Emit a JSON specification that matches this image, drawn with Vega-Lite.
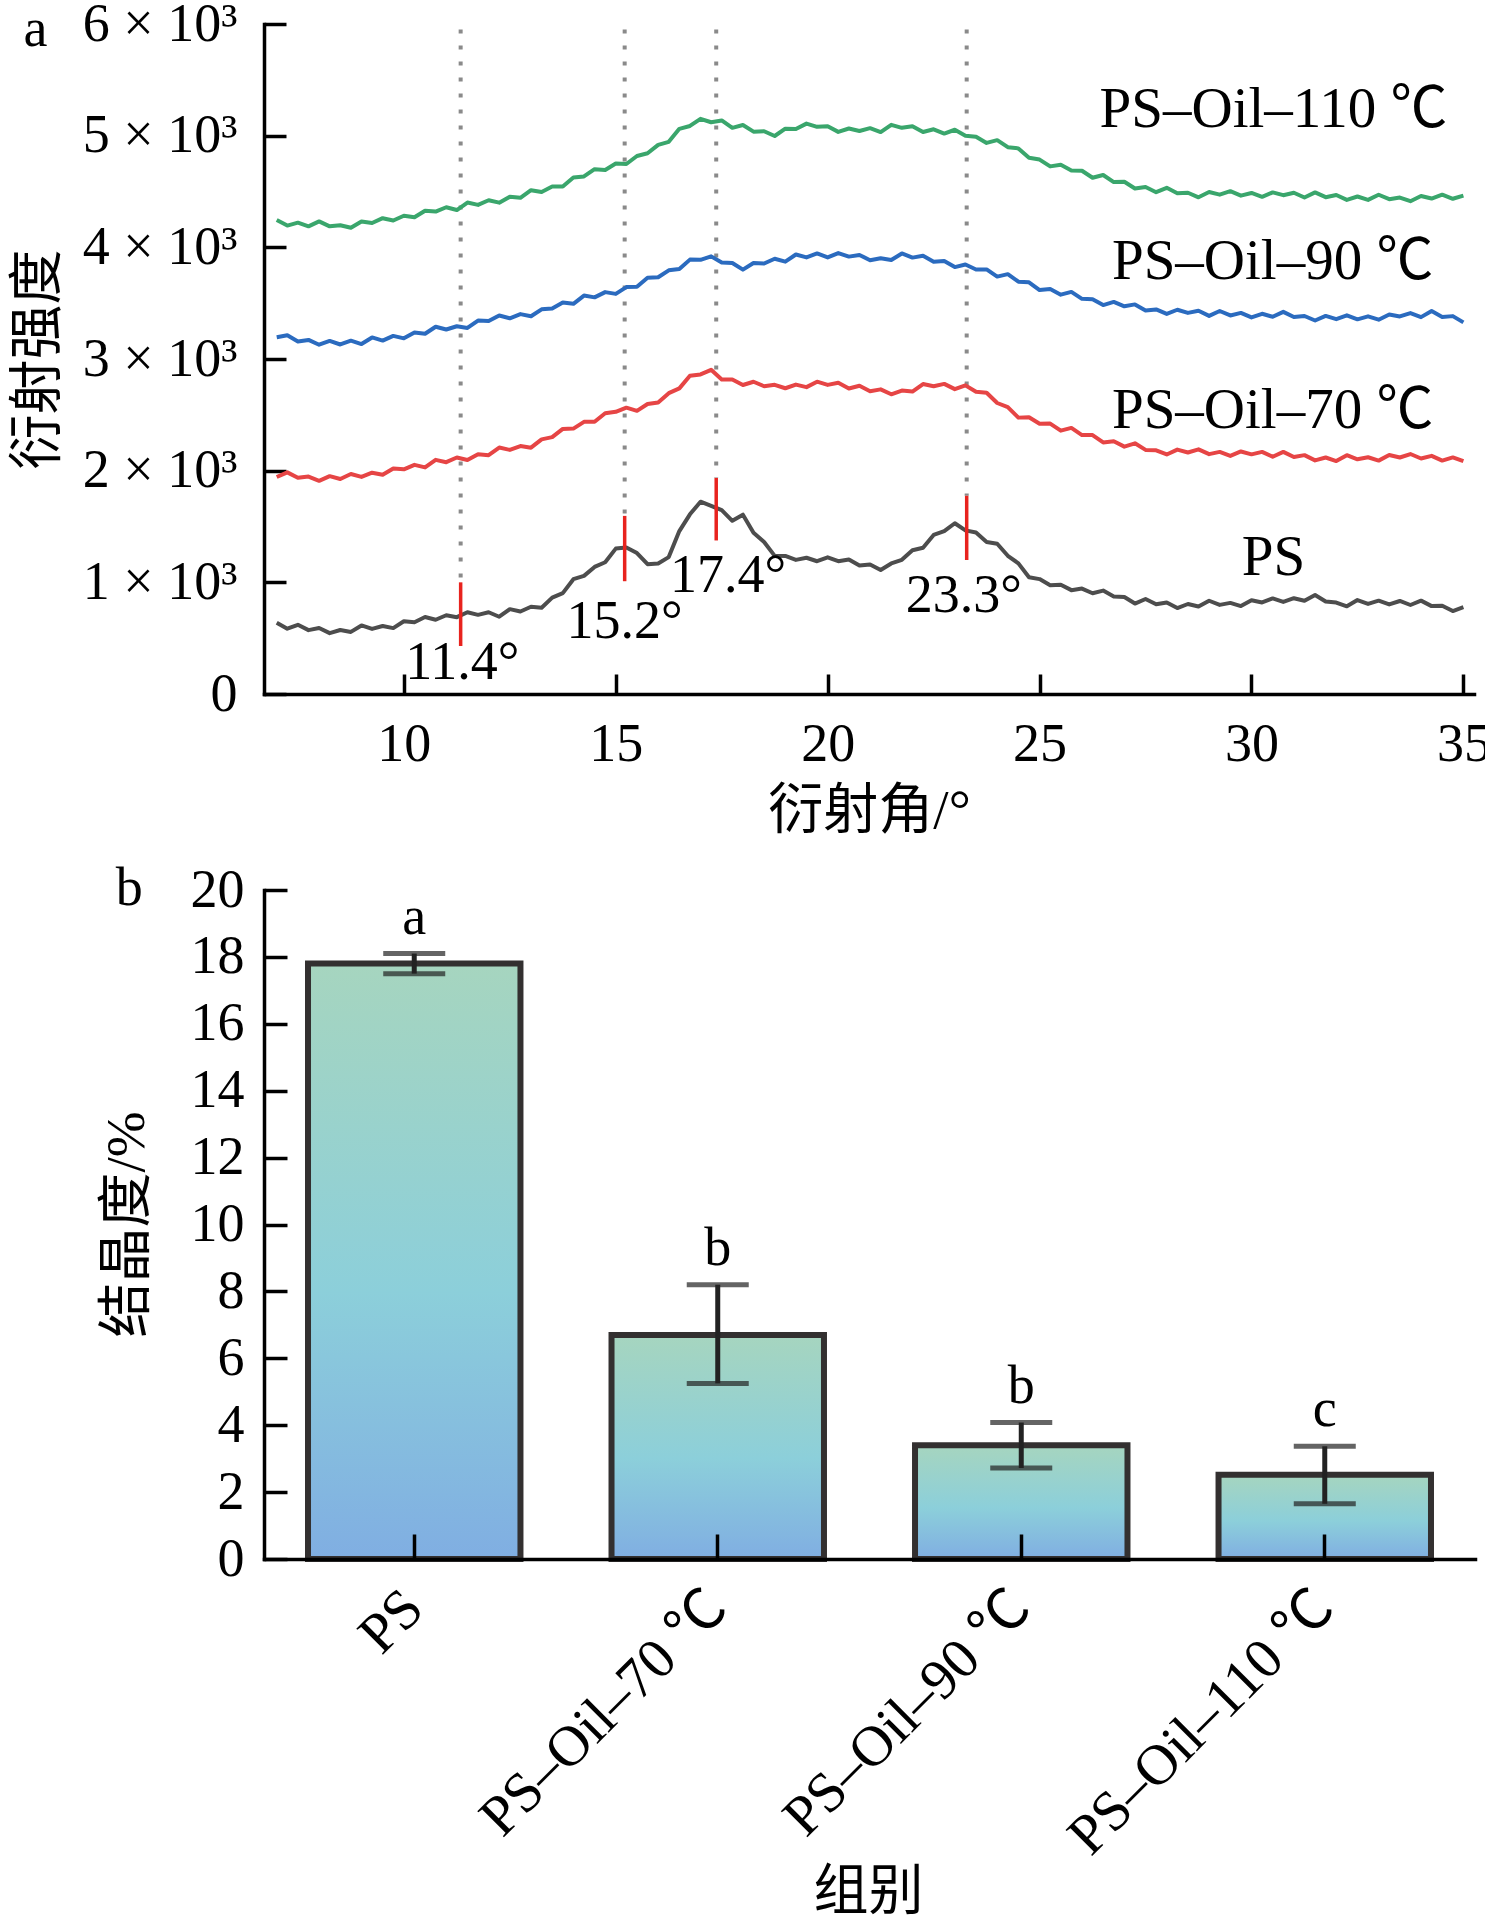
{
"$schema": "https://vega.github.io/schema/vega-lite/v6.json",
"background": "white",
"padding": {"left": 10, "top": -3, "right": 0, "bottom": 0},
"spacing": 196,
"bounds": "flush",
"config": {
  "view": {"stroke": null},
  "font": "Liberation Serif",
  "axis": {"grid": false, "labelFont": "Liberation Serif", "titleFont": "Liberation Serif, Noto Sans CJK SC", "labelColor": "black", "titleColor": "black", "domainColor": "black", "tickColor": "black", "domainWidth": 3.5, "tickWidth": 3.5, "titleFontWeight": "normal", "labelFontSize": 54, "titleFontSize": 55, "domainCap": "square"}
},
"datasets": {
  "xrd": [
{"sample":"PS","angle":7,"intensity":639},{"sample":"PS","angle":7.25,"intensity":585},{"sample":"PS","angle":7.5,"intensity":620},{"sample":"PS","angle":7.75,"intensity":572},{"sample":"PS","angle":8,"intensity":591},{"sample":"PS","angle":8.25,"intensity":545},{"sample":"PS","angle":8.5,"intensity":573},{"sample":"PS","angle":8.75,"intensity":556},{"sample":"PS","angle":9,"intensity":614},{"sample":"PS","angle":9.25,"intensity":583},{"sample":"PS","angle":9.5,"intensity":609},{"sample":"PS","angle":9.75,"intensity":590},{"sample":"PS","angle":10,"intensity":651},{"sample":"PS","angle":10.25,"intensity":643},{"sample":"PS","angle":10.5,"intensity":689},{"sample":"PS","angle":10.75,"intensity":665},{"sample":"PS","angle":11,"intensity":705},{"sample":"PS","angle":11.25,"intensity":688},{"sample":"PS","angle":11.5,"intensity":732},{"sample":"PS","angle":11.75,"intensity":709},{"sample":"PS","angle":12,"intensity":732},{"sample":"PS","angle":12.25,"intensity":692},{"sample":"PS","angle":12.5,"intensity":760},{"sample":"PS","angle":12.75,"intensity":739},{"sample":"PS","angle":13,"intensity":781},{"sample":"PS","angle":13.25,"intensity":773},{"sample":"PS","angle":13.5,"intensity":863},{"sample":"PS","angle":13.75,"intensity":903},{"sample":"PS","angle":14,"intensity":1028},{"sample":"PS","angle":14.25,"intensity":1058},{"sample":"PS","angle":14.5,"intensity":1138},{"sample":"PS","angle":14.75,"intensity":1180},{"sample":"PS","angle":15,"intensity":1302},{"sample":"PS","angle":15.25,"intensity":1312},{"sample":"PS","angle":15.5,"intensity":1262},{"sample":"PS","angle":15.75,"intensity":1162},{"sample":"PS","angle":16,"intensity":1169},{"sample":"PS","angle":16.25,"intensity":1226},{"sample":"PS","angle":16.5,"intensity":1459},{"sample":"PS","angle":16.75,"intensity":1609},{"sample":"PS","angle":17,"intensity":1722},{"sample":"PS","angle":17.25,"intensity":1684},{"sample":"PS","angle":17.5,"intensity":1646},{"sample":"PS","angle":17.75,"intensity":1551},{"sample":"PS","angle":18,"intensity":1606},{"sample":"PS","angle":18.25,"intensity":1445},{"sample":"PS","angle":18.5,"intensity":1361},{"sample":"PS","angle":18.75,"intensity":1237},{"sample":"PS","angle":19,"intensity":1236},{"sample":"PS","angle":19.25,"intensity":1201},{"sample":"PS","angle":19.5,"intensity":1220},{"sample":"PS","angle":19.75,"intensity":1189},{"sample":"PS","angle":20,"intensity":1224},{"sample":"PS","angle":20.25,"intensity":1189},{"sample":"PS","angle":20.5,"intensity":1205},{"sample":"PS","angle":20.75,"intensity":1150},{"sample":"PS","angle":21,"intensity":1160},{"sample":"PS","angle":21.25,"intensity":1111},{"sample":"PS","angle":21.5,"intensity":1169},{"sample":"PS","angle":21.75,"intensity":1202},{"sample":"PS","angle":22,"intensity":1287},{"sample":"PS","angle":22.25,"intensity":1310},{"sample":"PS","angle":22.5,"intensity":1424},{"sample":"PS","angle":22.75,"intensity":1458},{"sample":"PS","angle":23,"intensity":1529},{"sample":"PS","angle":23.25,"intensity":1465},{"sample":"PS","angle":23.5,"intensity":1446},{"sample":"PS","angle":23.75,"intensity":1362},{"sample":"PS","angle":24,"intensity":1346},{"sample":"PS","angle":24.25,"intensity":1238},{"sample":"PS","angle":24.5,"intensity":1170},{"sample":"PS","angle":24.75,"intensity":1046},{"sample":"PS","angle":25,"intensity":1029},{"sample":"PS","angle":25.25,"intensity":974},{"sample":"PS","angle":25.5,"intensity":979},{"sample":"PS","angle":25.75,"intensity":930},{"sample":"PS","angle":26,"intensity":944},{"sample":"PS","angle":26.25,"intensity":902},{"sample":"PS","angle":26.5,"intensity":926},{"sample":"PS","angle":26.75,"intensity":874},{"sample":"PS","angle":27,"intensity":869},{"sample":"PS","angle":27.25,"intensity":810},{"sample":"PS","angle":27.5,"intensity":851},{"sample":"PS","angle":27.75,"intensity":803},{"sample":"PS","angle":28,"intensity":819},{"sample":"PS","angle":28.25,"intensity":770},{"sample":"PS","angle":28.5,"intensity":806},{"sample":"PS","angle":28.75,"intensity":783},{"sample":"PS","angle":29,"intensity":835},{"sample":"PS","angle":29.25,"intensity":798},{"sample":"PS","angle":29.5,"intensity":816},{"sample":"PS","angle":29.75,"intensity":787},{"sample":"PS","angle":30,"intensity":839},{"sample":"PS","angle":30.25,"intensity":820},{"sample":"PS","angle":30.5,"intensity":856},{"sample":"PS","angle":30.75,"intensity":825},{"sample":"PS","angle":31,"intensity":858},{"sample":"PS","angle":31.25,"intensity":835},{"sample":"PS","angle":31.5,"intensity":887},{"sample":"PS","angle":31.75,"intensity":829},{"sample":"PS","angle":32,"intensity":819},{"sample":"PS","angle":32.25,"intensity":785},{"sample":"PS","angle":32.5,"intensity":841},{"sample":"PS","angle":32.75,"intensity":807},{"sample":"PS","angle":33,"intensity":836},{"sample":"PS","angle":33.25,"intensity":802},{"sample":"PS","angle":33.5,"intensity":833},{"sample":"PS","angle":33.75,"intensity":797},{"sample":"PS","angle":34,"intensity":836},{"sample":"PS","angle":34.25,"intensity":787},{"sample":"PS","angle":34.5,"intensity":791},{"sample":"PS","angle":34.75,"intensity":743},{"sample":"PS","angle":35,"intensity":777},
{"sample":"70","angle":7,"intensity":1943},{"sample":"70","angle":7.25,"intensity":1985},{"sample":"70","angle":7.5,"intensity":1937},{"sample":"70","angle":7.75,"intensity":1947},{"sample":"70","angle":8,"intensity":1909},{"sample":"70","angle":8.25,"intensity":1951},{"sample":"70","angle":8.5,"intensity":1925},{"sample":"70","angle":8.75,"intensity":1970},{"sample":"70","angle":9,"intensity":1944},{"sample":"70","angle":9.25,"intensity":1982},{"sample":"70","angle":9.5,"intensity":1963},{"sample":"70","angle":9.75,"intensity":2020},{"sample":"70","angle":10,"intensity":2012},{"sample":"70","angle":10.25,"intensity":2052},{"sample":"70","angle":10.5,"intensity":2029},{"sample":"70","angle":10.75,"intensity":2097},{"sample":"70","angle":11,"intensity":2076},{"sample":"70","angle":11.25,"intensity":2118},{"sample":"70","angle":11.5,"intensity":2096},{"sample":"70","angle":11.75,"intensity":2148},{"sample":"70","angle":12,"intensity":2139},{"sample":"70","angle":12.25,"intensity":2207},{"sample":"70","angle":12.5,"intensity":2186},{"sample":"70","angle":12.75,"intensity":2220},{"sample":"70","angle":13,"intensity":2206},{"sample":"70","angle":13.25,"intensity":2280},{"sample":"70","angle":13.5,"intensity":2300},{"sample":"70","angle":13.75,"intensity":2374},{"sample":"70","angle":14,"intensity":2377},{"sample":"70","angle":14.25,"intensity":2437},{"sample":"70","angle":14.5,"intensity":2438},{"sample":"70","angle":14.75,"intensity":2514},{"sample":"70","angle":15,"intensity":2527},{"sample":"70","angle":15.25,"intensity":2564},{"sample":"70","angle":15.5,"intensity":2536},{"sample":"70","angle":15.75,"intensity":2597},{"sample":"70","angle":16,"intensity":2611},{"sample":"70","angle":16.25,"intensity":2694},{"sample":"70","angle":16.5,"intensity":2737},{"sample":"70","angle":16.75,"intensity":2850},{"sample":"70","angle":17,"intensity":2862},{"sample":"70","angle":17.25,"intensity":2903},{"sample":"70","angle":17.5,"intensity":2817},{"sample":"70","angle":17.75,"intensity":2816},{"sample":"70","angle":18,"intensity":2767},{"sample":"70","angle":18.25,"intensity":2796},{"sample":"70","angle":18.5,"intensity":2756},{"sample":"70","angle":18.75,"intensity":2769},{"sample":"70","angle":19,"intensity":2738},{"sample":"70","angle":19.25,"intensity":2771},{"sample":"70","angle":19.5,"intensity":2748},{"sample":"70","angle":19.75,"intensity":2797},{"sample":"70","angle":20,"intensity":2768},{"sample":"70","angle":20.25,"intensity":2787},{"sample":"70","angle":20.5,"intensity":2736},{"sample":"70","angle":20.75,"intensity":2760},{"sample":"70","angle":21,"intensity":2711},{"sample":"70","angle":21.25,"intensity":2728},{"sample":"70","angle":21.5,"intensity":2684},{"sample":"70","angle":21.75,"intensity":2717},{"sample":"70","angle":22,"intensity":2708},{"sample":"70","angle":22.25,"intensity":2776},{"sample":"70","angle":22.5,"intensity":2756},{"sample":"70","angle":22.75,"intensity":2777},{"sample":"70","angle":23,"intensity":2730},{"sample":"70","angle":23.25,"intensity":2764},{"sample":"70","angle":23.5,"intensity":2706},{"sample":"70","angle":23.75,"intensity":2698},{"sample":"70","angle":24,"intensity":2606},{"sample":"70","angle":24.25,"intensity":2569},{"sample":"70","angle":24.5,"intensity":2475},{"sample":"70","angle":24.75,"intensity":2479},{"sample":"70","angle":25,"intensity":2420},{"sample":"70","angle":25.25,"intensity":2422},{"sample":"70","angle":25.5,"intensity":2358},{"sample":"70","angle":25.75,"intensity":2383},{"sample":"70","angle":26,"intensity":2319},{"sample":"70","angle":26.25,"intensity":2319},{"sample":"70","angle":26.5,"intensity":2253},{"sample":"70","angle":26.75,"intensity":2263},{"sample":"70","angle":27,"intensity":2215},{"sample":"70","angle":27.25,"intensity":2245},{"sample":"70","angle":27.5,"intensity":2186},{"sample":"70","angle":27.75,"intensity":2182},{"sample":"70","angle":28,"intensity":2145},{"sample":"70","angle":28.25,"intensity":2189},{"sample":"70","angle":28.5,"intensity":2163},{"sample":"70","angle":28.75,"intensity":2191},{"sample":"70","angle":29,"intensity":2148},{"sample":"70","angle":29.25,"intensity":2168},{"sample":"70","angle":29.5,"intensity":2132},{"sample":"70","angle":29.75,"intensity":2172},{"sample":"70","angle":30,"intensity":2146},{"sample":"70","angle":30.25,"intensity":2168},{"sample":"70","angle":30.5,"intensity":2125},{"sample":"70","angle":30.75,"intensity":2168},{"sample":"70","angle":31,"intensity":2122},{"sample":"70","angle":31.25,"intensity":2139},{"sample":"70","angle":31.5,"intensity":2092},{"sample":"70","angle":31.75,"intensity":2118},{"sample":"70","angle":32,"intensity":2086},{"sample":"70","angle":32.25,"intensity":2139},{"sample":"70","angle":32.5,"intensity":2102},{"sample":"70","angle":32.75,"intensity":2120},{"sample":"70","angle":33,"intensity":2090},{"sample":"70","angle":33.25,"intensity":2140},{"sample":"70","angle":33.5,"intensity":2118},{"sample":"70","angle":33.75,"intensity":2149},{"sample":"70","angle":34,"intensity":2109},{"sample":"70","angle":34.25,"intensity":2133},{"sample":"70","angle":34.5,"intensity":2090},{"sample":"70","angle":34.75,"intensity":2119},{"sample":"70","angle":35,"intensity":2085},
{"sample":"90","angle":7,"intensity":3195},{"sample":"90","angle":7.25,"intensity":3212},{"sample":"90","angle":7.5,"intensity":3157},{"sample":"90","angle":7.75,"intensity":3171},{"sample":"90","angle":8,"intensity":3128},{"sample":"90","angle":8.25,"intensity":3162},{"sample":"90","angle":8.5,"intensity":3130},{"sample":"90","angle":8.75,"intensity":3164},{"sample":"90","angle":9,"intensity":3134},{"sample":"90","angle":9.25,"intensity":3193},{"sample":"90","angle":9.5,"intensity":3165},{"sample":"90","angle":9.75,"intensity":3207},{"sample":"90","angle":10,"intensity":3185},{"sample":"90","angle":10.25,"intensity":3237},{"sample":"90","angle":10.5,"intensity":3226},{"sample":"90","angle":10.75,"intensity":3289},{"sample":"90","angle":11,"intensity":3264},{"sample":"90","angle":11.25,"intensity":3293},{"sample":"90","angle":11.5,"intensity":3278},{"sample":"90","angle":11.75,"intensity":3344},{"sample":"90","angle":12,"intensity":3340},{"sample":"90","angle":12.25,"intensity":3390},{"sample":"90","angle":12.5,"intensity":3364},{"sample":"90","angle":12.75,"intensity":3402},{"sample":"90","angle":13,"intensity":3383},{"sample":"90","angle":13.25,"intensity":3445},{"sample":"90","angle":13.5,"intensity":3452},{"sample":"90","angle":13.75,"intensity":3505},{"sample":"90","angle":14,"intensity":3494},{"sample":"90","angle":14.25,"intensity":3568},{"sample":"90","angle":14.5,"intensity":3552},{"sample":"90","angle":14.75,"intensity":3599},{"sample":"90","angle":15,"intensity":3583},{"sample":"90","angle":15.25,"intensity":3644},{"sample":"90","angle":15.5,"intensity":3647},{"sample":"90","angle":15.75,"intensity":3727},{"sample":"90","angle":16,"intensity":3732},{"sample":"90","angle":16.25,"intensity":3794},{"sample":"90","angle":16.5,"intensity":3805},{"sample":"90","angle":16.75,"intensity":3890},{"sample":"90","angle":17,"intensity":3888},{"sample":"90","angle":17.25,"intensity":3919},{"sample":"90","angle":17.5,"intensity":3864},{"sample":"90","angle":17.75,"intensity":3860},{"sample":"90","angle":18,"intensity":3800},{"sample":"90","angle":18.25,"intensity":3860},{"sample":"90","angle":18.5,"intensity":3855},{"sample":"90","angle":18.75,"intensity":3898},{"sample":"90","angle":19,"intensity":3872},{"sample":"90","angle":19.25,"intensity":3936},{"sample":"90","angle":19.5,"intensity":3910},{"sample":"90","angle":19.75,"intensity":3945},{"sample":"90","angle":20,"intensity":3910},{"sample":"90","angle":20.25,"intensity":3949},{"sample":"90","angle":20.5,"intensity":3917},{"sample":"90","angle":20.75,"intensity":3932},{"sample":"90","angle":21,"intensity":3885},{"sample":"90","angle":21.25,"intensity":3902},{"sample":"90","angle":21.5,"intensity":3886},{"sample":"90","angle":21.75,"intensity":3945},{"sample":"90","angle":22,"intensity":3908},{"sample":"90","angle":22.25,"intensity":3924},{"sample":"90","angle":22.5,"intensity":3870},{"sample":"90","angle":22.75,"intensity":3877},{"sample":"90","angle":23,"intensity":3823},{"sample":"90","angle":23.25,"intensity":3846},{"sample":"90","angle":23.5,"intensity":3801},{"sample":"90","angle":23.75,"intensity":3802},{"sample":"90","angle":24,"intensity":3738},{"sample":"90","angle":24.25,"intensity":3760},{"sample":"90","angle":24.5,"intensity":3692},{"sample":"90","angle":24.75,"intensity":3687},{"sample":"90","angle":25,"intensity":3617},{"sample":"90","angle":25.25,"intensity":3626},{"sample":"90","angle":25.5,"intensity":3576},{"sample":"90","angle":25.75,"intensity":3601},{"sample":"90","angle":26,"intensity":3539},{"sample":"90","angle":26.25,"intensity":3535},{"sample":"90","angle":26.5,"intensity":3483},{"sample":"90","angle":26.75,"intensity":3511},{"sample":"90","angle":27,"intensity":3472},{"sample":"90","angle":27.25,"intensity":3489},{"sample":"90","angle":27.5,"intensity":3435},{"sample":"90","angle":27.75,"intensity":3444},{"sample":"90","angle":28,"intensity":3404},{"sample":"90","angle":28.25,"intensity":3441},{"sample":"90","angle":28.5,"intensity":3413},{"sample":"90","angle":28.75,"intensity":3432},{"sample":"90","angle":29,"intensity":3386},{"sample":"90","angle":29.25,"intensity":3430},{"sample":"90","angle":29.5,"intensity":3390},{"sample":"90","angle":29.75,"intensity":3413},{"sample":"90","angle":30,"intensity":3372},{"sample":"90","angle":30.25,"intensity":3405},{"sample":"90","angle":30.5,"intensity":3378},{"sample":"90","angle":30.75,"intensity":3422},{"sample":"90","angle":31,"intensity":3376},{"sample":"90","angle":31.25,"intensity":3385},{"sample":"90","angle":31.5,"intensity":3345},{"sample":"90","angle":31.75,"intensity":3386},{"sample":"90","angle":32,"intensity":3357},{"sample":"90","angle":32.25,"intensity":3391},{"sample":"90","angle":32.5,"intensity":3355},{"sample":"90","angle":32.75,"intensity":3382},{"sample":"90","angle":33,"intensity":3352},{"sample":"90","angle":33.25,"intensity":3398},{"sample":"90","angle":33.5,"intensity":3381},{"sample":"90","angle":33.75,"intensity":3411},{"sample":"90","angle":34,"intensity":3375},{"sample":"90","angle":34.25,"intensity":3429},{"sample":"90","angle":34.5,"intensity":3376},{"sample":"90","angle":34.75,"intensity":3384},{"sample":"90","angle":35,"intensity":3328},
{"sample":"110","angle":7,"intensity":4244},{"sample":"110","angle":7.25,"intensity":4195},{"sample":"110","angle":7.5,"intensity":4221},{"sample":"110","angle":7.75,"intensity":4188},{"sample":"110","angle":8,"intensity":4232},{"sample":"110","angle":8.25,"intensity":4188},{"sample":"110","angle":8.5,"intensity":4198},{"sample":"110","angle":8.75,"intensity":4175},{"sample":"110","angle":9,"intensity":4231},{"sample":"110","angle":9.25,"intensity":4218},{"sample":"110","angle":9.5,"intensity":4261},{"sample":"110","angle":9.75,"intensity":4240},{"sample":"110","angle":10,"intensity":4283},{"sample":"110","angle":10.25,"intensity":4269},{"sample":"110","angle":10.5,"intensity":4328},{"sample":"110","angle":10.75,"intensity":4320},{"sample":"110","angle":11,"intensity":4359},{"sample":"110","angle":11.25,"intensity":4334},{"sample":"110","angle":11.5,"intensity":4401},{"sample":"110","angle":11.75,"intensity":4380},{"sample":"110","angle":12,"intensity":4422},{"sample":"110","angle":12.25,"intensity":4400},{"sample":"110","angle":12.5,"intensity":4452},{"sample":"110","angle":12.75,"intensity":4444},{"sample":"110","angle":13,"intensity":4512},{"sample":"110","angle":13.25,"intensity":4496},{"sample":"110","angle":13.5,"intensity":4544},{"sample":"110","angle":13.75,"intensity":4545},{"sample":"110","angle":14,"intensity":4625},{"sample":"110","angle":14.25,"intensity":4635},{"sample":"110","angle":14.5,"intensity":4700},{"sample":"110","angle":14.75,"intensity":4693},{"sample":"110","angle":15,"intensity":4750},{"sample":"110","angle":15.25,"intensity":4746},{"sample":"110","angle":15.5,"intensity":4818},{"sample":"110","angle":15.75,"intensity":4842},{"sample":"110","angle":16,"intensity":4918},{"sample":"110","angle":16.25,"intensity":4945},{"sample":"110","angle":16.5,"intensity":5061},{"sample":"110","angle":16.75,"intensity":5087},{"sample":"110","angle":17,"intensity":5151},{"sample":"110","angle":17.25,"intensity":5120},{"sample":"110","angle":17.5,"intensity":5136},{"sample":"110","angle":17.75,"intensity":5070},{"sample":"110","angle":18,"intensity":5095},{"sample":"110","angle":18.25,"intensity":5036},{"sample":"110","angle":18.5,"intensity":5040},{"sample":"110","angle":18.75,"intensity":4997},{"sample":"110","angle":19,"intensity":5063},{"sample":"110","angle":19.25,"intensity":5059},{"sample":"110","angle":19.5,"intensity":5108},{"sample":"110","angle":19.75,"intensity":5079},{"sample":"110","angle":20,"intensity":5085},{"sample":"110","angle":20.25,"intensity":5034},{"sample":"110","angle":20.5,"intensity":5064},{"sample":"110","angle":20.75,"intensity":5042},{"sample":"110","angle":21,"intensity":5067},{"sample":"110","angle":21.25,"intensity":5032},{"sample":"110","angle":21.5,"intensity":5097},{"sample":"110","angle":21.75,"intensity":5070},{"sample":"110","angle":22,"intensity":5084},{"sample":"110","angle":22.25,"intensity":5033},{"sample":"110","angle":22.5,"intensity":5057},{"sample":"110","angle":22.75,"intensity":5019},{"sample":"110","angle":23,"intensity":5053},{"sample":"110","angle":23.25,"intensity":5000},{"sample":"110","angle":23.5,"intensity":4991},{"sample":"110","angle":23.75,"intensity":4935},{"sample":"110","angle":24,"intensity":4960},{"sample":"110","angle":24.25,"intensity":4897},{"sample":"110","angle":24.5,"intensity":4886},{"sample":"110","angle":24.75,"intensity":4803},{"sample":"110","angle":25,"intensity":4786},{"sample":"110","angle":25.25,"intensity":4725},{"sample":"110","angle":25.5,"intensity":4739},{"sample":"110","angle":25.75,"intensity":4689},{"sample":"110","angle":26,"intensity":4686},{"sample":"110","angle":26.25,"intensity":4623},{"sample":"110","angle":26.5,"intensity":4648},{"sample":"110","angle":26.75,"intensity":4584},{"sample":"110","angle":27,"intensity":4587},{"sample":"110","angle":27.25,"intensity":4527},{"sample":"110","angle":27.5,"intensity":4541},{"sample":"110","angle":27.75,"intensity":4494},{"sample":"110","angle":28,"intensity":4533},{"sample":"110","angle":28.25,"intensity":4484},{"sample":"110","angle":28.5,"intensity":4489},{"sample":"110","angle":28.75,"intensity":4448},{"sample":"110","angle":29,"intensity":4495},{"sample":"110","angle":29.25,"intensity":4472},{"sample":"110","angle":29.5,"intensity":4503},{"sample":"110","angle":29.75,"intensity":4463},{"sample":"110","angle":30,"intensity":4487},{"sample":"110","angle":30.25,"intensity":4452},{"sample":"110","angle":30.5,"intensity":4492},{"sample":"110","angle":30.75,"intensity":4467},{"sample":"110","angle":31,"intensity":4489},{"sample":"110","angle":31.25,"intensity":4446},{"sample":"110","angle":31.5,"intensity":4492},{"sample":"110","angle":31.75,"intensity":4449},{"sample":"110","angle":32,"intensity":4469},{"sample":"110","angle":32.25,"intensity":4425},{"sample":"110","angle":32.5,"intensity":4455},{"sample":"110","angle":32.75,"intensity":4425},{"sample":"110","angle":33,"intensity":4471},{"sample":"110","angle":33.25,"intensity":4431},{"sample":"110","angle":33.5,"intensity":4446},{"sample":"110","angle":33.75,"intensity":4413},{"sample":"110","angle":34,"intensity":4460},{"sample":"110","angle":34.25,"intensity":4437},{"sample":"110","angle":34.5,"intensity":4471},{"sample":"110","angle":34.75,"intensity":4435},{"sample":"110","angle":35,"intensity":4463}
  ],
  "guides": [
    {"angle": 11.34, "intensity": 5950, "intensity_end": 1000},
    {"angle": 15.21, "intensity": 5950, "intensity_end": 1595},
    {"angle": 17.37, "intensity": 5950, "intensity_end": 1935},
    {"angle": 23.28, "intensity": 5950, "intensity_end": 1775}
  ],
  "peakmarks": [
    {"angle": 11.34, "intensity": 430, "intensity_end": 1000},
    {"angle": 15.21, "intensity": 1010, "intensity_end": 1595},
    {"angle": 17.37, "intensity": 1375, "intensity_end": 1935},
    {"angle": 23.28, "intensity": 1200, "intensity_end": 1775}
  ],
  "peaklabels": [
    {"angle": 11.38, "intensity": 280, "label": "11.4°"},
    {"angle": 15.21, "intensity": 645, "label": "15.2°"},
    {"angle": 17.65, "intensity": 1056, "label": "17.4°"},
    {"angle": 23.21, "intensity": 877, "label": "23.3°"}
  ],
  "serieslabels": [
    {"angle": 30.52, "intensity": 5228, "label": "PS–Oil–110 ℃"},
    {"angle": 30.5, "intensity": 3868, "label": "PS–Oil–90 ℃"},
    {"angle": 30.5, "intensity": 2534, "label": "PS–Oil–70 ℃"},
    {"angle": 30.52, "intensity": 1218, "label": "PS"}
  ],
  "panela": [
    {"angle": 1.31, "intensity": 5803, "label": "a"}
  ],
  "cryst": [
    {"group": "PS", "mean": 17.8, "lo": 17.5, "hi": 18.1, "sig": "a"},
    {"group": "PS–Oil–70 ℃", "mean": 6.7, "lo": 5.25, "hi": 8.2, "sig": "b"},
    {"group": "PS–Oil–90 ℃", "mean": 3.4, "lo": 2.72, "hi": 4.08, "sig": "b"},
    {"group": "PS–Oil–110 ℃", "mean": 2.52, "lo": 1.65, "hi": 3.37, "sig": "c"}
  ],
  "panelb": [
    {"group": "PS", "mean": 20, "label": "b"}
  ]
},
"vconcat": [
  {
    "width": 1210,
    "height": 670,
    "encoding": {
      "x": {"field": "angle", "type": "quantitative", "title": "衍射角/°",
        "scale": {"domain": [6.7, 35.25], "nice": false, "zero": false},
        "axis": {"values": [10, 15, 20, 25, 30, 35], "tickSize": -20, "labelPadding": 43, "titleX": 605, "titleY": 116, "titleBaseline": "middle", "titleAlign": "center"}},
      "y": {"field": "intensity", "type": "quantitative", "title": "衍射强度",
        "scale": {"domain": [0, 6000], "nice": false, "zero": true},
        "axis": {"values": [0, 1000, 2000, 3000, 4000, 5000, 6000], "tickSize": -22, "labelPadding": 49,
          "labelExpr": "datum.value == 0 ? '0' : (datum.value / 1000) + ' × 10³'",
          "titleX": -227, "titleY": 335, "titleAngle": -90, "titleBaseline": "middle", "titleAlign": "center"}}
    },
    "layer": [
      {
        "data": {"name": "guides"},
        "mark": {"type": "rule", "color": "#8a8a8a", "strokeWidth": 4, "strokeDash": [4, 12]},
        "encoding": {"y2": {"field": "intensity_end"}}
      },
      {
        "data": {"name": "xrd"},
        "mark": {"type": "line", "strokeWidth": 4, "strokeJoin": "round"},
        "encoding": {
          "color": {"field": "sample", "type": "nominal", "legend": null,
            "scale": {"domain": ["PS", "70", "90", "110"], "range": ["#4d4d4d", "#e64545", "#2b6bbf", "#3aa66c"]}}
        }
      },
      {
        "data": {"name": "peakmarks"},
        "mark": {"type": "rule", "color": "#e8231e", "strokeWidth": 3.5},
        "encoding": {"y2": {"field": "intensity_end"}}
      },
      {
        "data": {"name": "peaklabels"},
        "mark": {"type": "text", "fontSize": 54, "font": "Liberation Serif", "color": "black", "align": "center", "baseline": "middle"},
        "encoding": {"text": {"field": "label"}}
      },
      {
        "data": {"name": "serieslabels"},
        "mark": {"type": "text", "fontSize": 57, "font": "Liberation Serif, Noto Sans CJK SC", "color": "black", "align": "center", "baseline": "middle"},
        "encoding": {"text": {"field": "label"}}
      },
      {
        "data": {"name": "panela"},
        "mark": {"type": "text", "fontSize": 54, "font": "Liberation Serif", "color": "black", "align": "center", "baseline": "alphabetic"},
        "encoding": {"text": {"field": "label"}}
      }
    ]
  },
  {
    "width": 1211,
    "height": 669,
    "encoding": {
      "x": {"field": "group", "type": "nominal", "sort": null, "title": "组别",
        "scale": {"paddingInner": 0.3, "paddingOuter": 0.145},
        "axis": {"zindex": 1, "tickSize": -25, "labelAngle": -45, "labelAlign": "right", "labelBaseline": "middle", "labelPadding": 65, "labelFontSize": 57, "labelLimit": 1000, "labelFont": "Liberation Serif, Noto Sans CJK SC",
          "titleX": 604, "titleY": 332, "titleBaseline": "middle", "titleAlign": "center", "titleAngle": 0}}
    },
    "layer": [
      {
        "data": {"name": "cryst"},
        "mark": {"type": "bar", "stroke": "#333030", "strokeWidth": 6,
          "fill": {"gradient": "linear", "x1": 0, "y1": 0, "x2": 0, "y2": 1,
            "stops": [{"offset": 0, "color": "#a6d5bf"}, {"offset": 0.55, "color": "#8ccfda"}, {"offset": 1, "color": "#80aee2"}]}},
        "encoding": {
          "y": {"field": "mean", "type": "quantitative", "title": "结晶度/%",
            "scale": {"domain": [0, 20], "nice": false},
            "axis": {"values": [0, 2, 4, 6, 8, 10, 12, 14, 16, 18, 20], "tickSize": -23, "labelPadding": 43, "titleX": -138, "titleY": 334, "titleAngle": -90, "titleBaseline": "middle", "titleAlign": "center"}}
        }
      },
      {
        "data": {"name": "cryst"},
        "mark": {"type": "rule", "color": "#222222", "strokeWidth": 5},
        "encoding": {
          "y": {"field": "lo", "type": "quantitative", "title": "结晶度/%",
            "scale": {"domain": [0, 20], "nice": false},
            "axis": {"values": [0, 2, 4, 6, 8, 10, 12, 14, 16, 18, 20], "tickSize": -23, "labelPadding": 43, "titleX": -138, "titleY": 334, "titleAngle": -90, "titleBaseline": "middle", "titleAlign": "center"}},
          "y2": {"field": "hi"}
        }
      },
      {
        "data": {"name": "cryst"},
        "mark": {"type": "tick", "color": "#222222", "thickness": 5, "size": 62},
        "encoding": {
          "y": {"field": "lo", "type": "quantitative", "title": "结晶度/%",
            "scale": {"domain": [0, 20], "nice": false},
            "axis": {"values": [0, 2, 4, 6, 8, 10, 12, 14, 16, 18, 20], "tickSize": -23, "labelPadding": 43, "titleX": -138, "titleY": 334, "titleAngle": -90, "titleBaseline": "middle", "titleAlign": "center"}}
        }
      },
      {
        "data": {"name": "cryst"},
        "mark": {"type": "tick", "color": "#222222", "thickness": 5, "size": 62},
        "encoding": {
          "y": {"field": "hi", "type": "quantitative", "title": "结晶度/%",
            "scale": {"domain": [0, 20], "nice": false},
            "axis": {"values": [0, 2, 4, 6, 8, 10, 12, 14, 16, 18, 20], "tickSize": -23, "labelPadding": 43, "titleX": -138, "titleY": 334, "titleAngle": -90, "titleBaseline": "middle", "titleAlign": "center"}}
        }
      },
      {
        "data": {"name": "cryst"},
        "mark": {"type": "text", "fontSize": 54, "font": "Liberation Serif", "color": "black", "align": "center", "baseline": "alphabetic", "dy": -20},
        "encoding": {
          "y": {"field": "hi", "type": "quantitative", "title": "结晶度/%",
            "scale": {"domain": [0, 20], "nice": false},
            "axis": {"values": [0, 2, 4, 6, 8, 10, 12, 14, 16, 18, 20], "tickSize": -23, "labelPadding": 43, "titleX": -138, "titleY": 334, "titleAngle": -90, "titleBaseline": "middle", "titleAlign": "center"}},
          "text": {"field": "sig"}
        }
      },
      {
        "data": {"name": "panelb"},
        "mark": {"type": "text", "fontSize": 54, "font": "Liberation Serif", "color": "black", "align": "center", "baseline": "alphabetic", "dx": -285, "dy": 15},
        "encoding": {
          "y": {"field": "mean", "type": "quantitative", "title": "结晶度/%",
            "scale": {"domain": [0, 20], "nice": false},
            "axis": {"values": [0, 2, 4, 6, 8, 10, 12, 14, 16, 18, 20], "tickSize": -23, "labelPadding": 43, "titleX": -138, "titleY": 334, "titleAngle": -90, "titleBaseline": "middle", "titleAlign": "center"}},
          "text": {"field": "label"}
        }
      }
    ]
  }
]
}
